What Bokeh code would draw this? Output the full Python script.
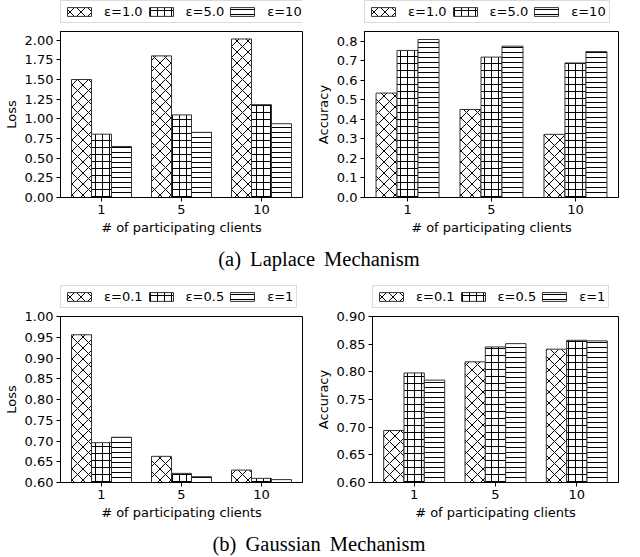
from bokeh.plotting import figure
from bokeh.models import FixedTicker, NumeralTickFormatter, Range1d, Legend, LegendItem, Div
from bokeh.layouts import column, row
from bokeh.embed import file_html
from bokeh.resources import INLINE

clients = ["1", "5", "10"]

lap_loss_e1 = [1.50, 1.80, 2.015]
lap_loss_e5 = [0.805, 1.05, 1.18]
lap_loss_e10 = [0.648, 0.828, 0.938]
lap_eps = ["ε=1.0", "ε=5.0", "ε=10"]

lap_acc_e1 = [0.534, 0.450, 0.323]
lap_acc_e5 = [0.752, 0.718, 0.688]
lap_acc_e10 = [0.808, 0.774, 0.746]

gau_loss_e01 = [0.956, 0.663, 0.630]
gau_loss_e05 = [0.696, 0.622, 0.610]
gau_loss_e1 = [0.709, 0.614, 0.607]
gau_eps = ["ε=0.1", "ε=0.5", "ε=1"]

gau_acc_e01 = [0.694, 0.818, 0.841]
gau_acc_e05 = [0.798, 0.845, 0.857]
gau_acc_e1 = [0.785, 0.851, 0.856]

lap_loss_ticks = [0.0, 0.25, 0.5, 0.75, 1.0, 1.25, 1.5, 1.75, 2.0]
lap_acc_ticks = [0.0, 0.1, 0.2, 0.3, 0.4, 0.5, 0.6, 0.7, 0.8]
gau_loss_ticks = [0.60, 0.65, 0.70, 0.75, 0.80, 0.85, 0.90, 0.95, 1.00]
gau_acc_ticks = [0.60, 0.65, 0.70, 0.75, 0.80, 0.85, 0.90]

FONT = "DejaVu Sans"
HATCH = [("x", 11), ("+", 7), ("-", 5)]
OFFS = [-0.25, 0.0, 0.25]
BAR_STYLE = dict(fill_color="white", line_color="#333333", line_width=1,
                 hatch_color="black", hatch_weight=1)


def make_legend_fig(series, labels, width, mbl, mbr):
    # a strip above the plot frame holding the legend; its bars lie far outside its view
    lf = figure(width=width, frame_height=24, output_backend="svg", toolbar_location=None,
                x_axis_location=None, y_axis_location=None,
                x_range=Range1d(-0.5125, 2.5125), y_range=Range1d(50, 51),
                min_border_left=mbl, min_border_right=mbr, min_border_top=0, min_border_bottom=0)
    lf.title.visible = False
    lf.xgrid.visible = False
    lf.ygrid.visible = False
    lf.outline_line_color = None
    items = []
    for i, vals in enumerate(series):
        xs = [j + OFFS[i] for j in range(len(clients))]
        r = lf.vbar(x=xs, top=vals, bottom=0, width=0.25, hatch_pattern=HATCH[i][0],
                    hatch_scale=HATCH[i][1], **BAR_STYLE)
        items.append(LegendItem(label=labels[i], renderers=[r]))
    leg = Legend(items=items, orientation="horizontal", location=(0, 1),
                 label_text_font=FONT, label_text_font_size="13px", label_text_color="black",
                 glyph_width=30, glyph_height=11, label_height=14,
                 label_standoff=10, spacing=3, padding=3, margin=0,
                 border_line_color="#b8b8b8", border_line_width=1,
                 background_fill_color="white")
    lf.add_layout(leg)
    return lf


def make_panel(series, ylabel, yrange, ticks, fmt, width, mbl, mbr):
    p = figure(width=width, frame_height=166, output_backend="svg", toolbar_location=None,
               x_range=Range1d(-0.5125, 2.5125), y_range=Range1d(*yrange),
               min_border_left=mbl, min_border_right=mbr, min_border_top=7, min_border_bottom=0)
    p.title.visible = False
    for i, vals in enumerate(series):
        xs = [j + OFFS[i] for j in range(len(clients))]
        p.vbar(x=xs, top=vals, bottom=yrange[0], width=0.25,
               hatch_pattern=HATCH[i][0], hatch_scale=HATCH[i][1], **BAR_STYLE)
    p.xgrid.visible = False
    p.ygrid.visible = False
    p.outline_line_color = "black"
    p.outline_line_width = 1
    p.xaxis.ticker = FixedTicker(ticks=[0, 1, 2])
    p.xaxis.major_label_overrides = {0: clients[0], 1: clients[1], 2: clients[2]}
    p.yaxis.ticker = FixedTicker(ticks=ticks)
    p.yaxis.formatter = NumeralTickFormatter(format=fmt)
    p.xaxis.axis_label = "# of participating clients"
    p.yaxis.axis_label = ylabel
    for ax in (p.xaxis[0], p.yaxis[0]):
        ax.minor_tick_line_color = None
        ax.major_tick_out = 4
        ax.major_tick_in = 0
        ax.major_label_standoff = 3
        ax.axis_label_standoff = 3
        ax.major_label_text_font = FONT
        ax.major_label_text_font_size = "13px"
        ax.major_label_text_color = "black"
        ax.axis_label_text_font = FONT
        ax.axis_label_text_font_size = "13px"
        ax.axis_label_text_font_style = "normal"
        ax.axis_label_text_color = "black"
        ax.axis_line_color = "black"
        ax.major_tick_line_color = "black"
    return p


def panel_block(series, labels, ylabel, yrange, ticks, fmt, mbl, mbr):
    lf = make_legend_fig(series, labels, 312, mbl, mbr)
    p = make_panel(series, ylabel, yrange, ticks, fmt, 312, mbl, mbr)
    return column(lf, p, spacing=0)


b1 = panel_block([lap_loss_e1, lap_loss_e5, lap_loss_e10], lap_eps, "Loss", (0, 2.11),
                 lap_loss_ticks, "0.00", 54, 10)
b2 = panel_block([lap_acc_e1, lap_acc_e5, lap_acc_e10], lap_eps, "Accuracy", (0, 0.849),
                 lap_acc_ticks, "0.0", 47, 6)
b3 = panel_block([gau_loss_e01, gau_loss_e05, gau_loss_e1], gau_eps, "Loss", (0.6, 1.0),
                 gau_loss_ticks, "0.00", 54, 10)
b4 = panel_block([gau_acc_e01, gau_acc_e05, gau_acc_e1], gau_eps, "Accuracy", (0.6, 0.9),
                 gau_acc_ticks, "0.00", 54, 6)

cap_style = {"font-family": "Liberation Serif", "font-size": "20.5px", "color": "black",
             "text-align": "center", "width": "624px", "word-spacing": "4px",
             "line-height": "1", "padding-left": "14px"}
div_a = Div(text="(a) Laplace Mechanism", width=624, height=48, margin=0,
            styles=dict(cap_style, **{"padding-top": "12px"}))
div_b = Div(text="(b) Gaussian Mechanism", width=624, height=32, margin=0,
            styles=dict(cap_style, **{"padding-top": "12px"}))

layout = column(row(b1, b2, spacing=0), div_a, row(b3, b4, spacing=0), div_b, spacing=0)
open("out.html", "w").write(file_html(layout, INLINE))
